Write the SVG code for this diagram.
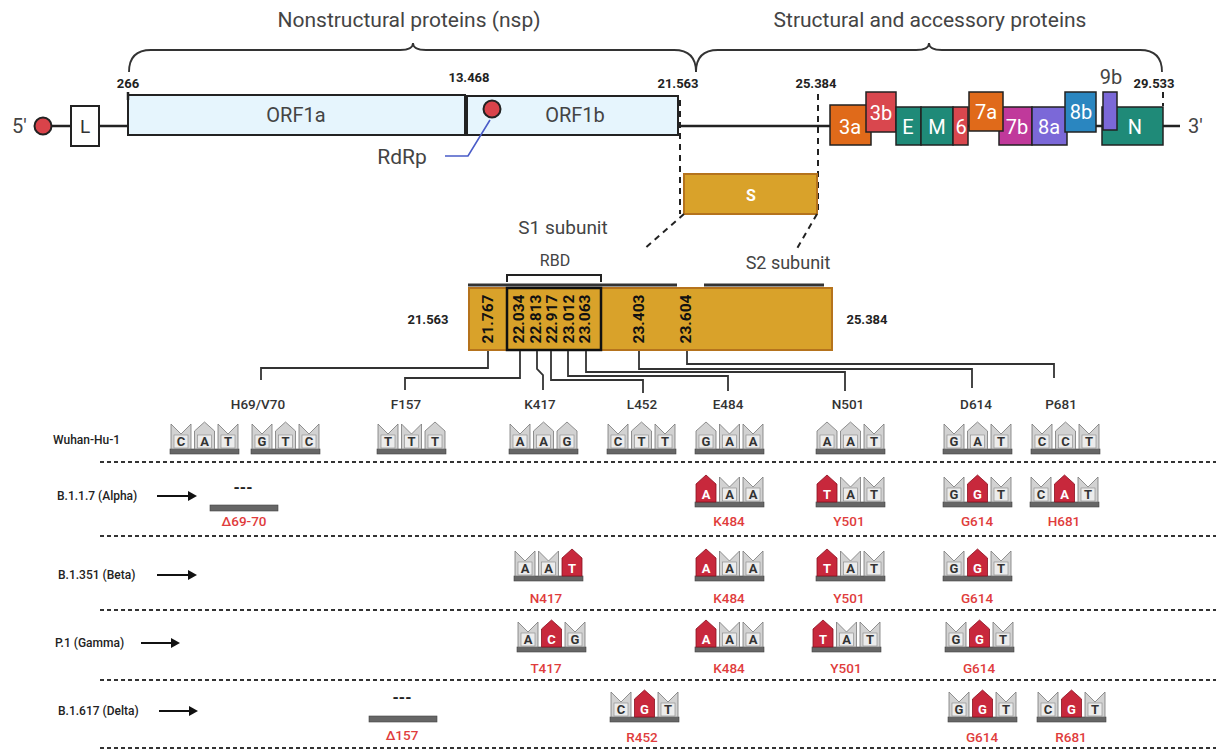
<svg xmlns="http://www.w3.org/2000/svg" xmlns:xlink="http://www.w3.org/1999/xlink" width="1216" height="749" viewBox="0 0 1216 749">
<style>
text{font-family:Roboto,"Liberation Sans",sans-serif}
.hd{font-size:21px;fill:#444;text-anchor:middle}
.num{font-size:13px;font-weight:bold;fill:#222;text-anchor:middle}
.orf{fill:#e6f5fd;stroke:#222;stroke-width:2}
.orft{font-size:20px;fill:#444;text-anchor:middle}
.gene{stroke:#222;stroke-width:1.5}
.gt{font-size:20px;fill:#fff;text-anchor:middle}
.dash{stroke:#222;stroke-width:2;stroke-dasharray:6 5;fill:none}
.sbox{fill:#d9a22a;stroke:#b5731d;stroke-width:2}
.vn{font-size:15.5px;font-weight:bold;fill:#111;text-anchor:middle;dominant-baseline:central}
.con{stroke:#333;stroke-width:1.8;fill:none}
.mut{font-size:13.5px;font-weight:500;fill:#333;text-anchor:middle}
.row{font-size:12px;font-weight:500;fill:#222}
.red{font-size:13.5px;font-weight:500;fill:#e03c3c;text-anchor:middle}
.dot{stroke:#333;stroke-width:2;stroke-dasharray:4 3}
.bar{fill:#666;stroke:#444;stroke-width:0.6}
.tg{fill:#d2d2d2;stroke:#777;stroke-width:0.8}
.tr{fill:#c8283c;stroke:#8a1020;stroke-width:0.8}
.in{fill:#ececec;stroke:#888;stroke-width:0.6}
.nt{font-size:13px;font-weight:bold;fill:#333;text-anchor:middle}
.nw{font-size:13px;font-weight:bold;fill:#fff;text-anchor:middle}
.arr{stroke:#111;stroke-width:2}
</style>
<defs>
<path id="tn" d="M0,0V-25L10,-15L20,-25V0Z"/>
<path id="tp" d="M0,0V-18L10,-27L20,-18V0Z"/>
</defs>

<g id="headers">
<text class="hd" x="409" y="27">Nonstructural proteins (nsp)</text>
<text class="hd" x="930" y="27">Structural and accessory proteins</text>
<path d="M129,72 Q129,50 151,50 H400 Q413,50 413,43 Q413,50 426,50 H674 Q696,50 696,72" fill="none" stroke="#333" stroke-width="1.8"/>
<path d="M696,72 Q696,50 718,50 H916 Q929,50 929,43 Q929,50 942,50 H1140 Q1162,50 1162,72" fill="none" stroke="#333" stroke-width="1.8"/>
</g>

<g id="genome-line">
<line x1="50" y1="126" x2="1180" y2="126" stroke="#222" stroke-width="2.5"/>
</g>

<g id="five-prime">
<text x="12" y="133" font-size="20" fill="#444">5'</text>
<circle cx="43" cy="126" r="8.5" fill="#d9434a" stroke="#222" stroke-width="2"/>
</g>
<g id="L">
<rect x="71" y="106" width="28" height="40" fill="#fff" stroke="#222" stroke-width="2"/>
<text x="85" y="133" font-size="19" fill="#333" text-anchor="middle">L</text>
</g>

<g id="ORF1a">
<rect class="orf" x="128" y="95" width="337" height="40"/>
<text class="orft" x="296" y="122">ORF1a</text>
<text class="num" x="128" y="88">266</text>
<line x1="128" y1="92" x2="128" y2="100" stroke="#222" stroke-width="2.5"/>
</g>
<g id="ORF1b">
<rect class="orf" x="467" y="96" width="211" height="39"/>
<text class="orft" x="575" y="122">ORF1b</text>
<circle cx="492" cy="109" r="8.5" fill="#d9434a" stroke="#222" stroke-width="2"/>
<text class="num" x="469" y="82">13.468</text>
</g>
<g id="RdRp">
<text x="402" y="164" font-size="21" fill="#444" text-anchor="middle">RdRp</text>
<path d="M445,156 H468 L490,120" fill="none" stroke="#4a5cc8" stroke-width="1.6"/>
</g>

<g id="positions">
<text class="num" x="678" y="88">21.563</text>
<text class="num" x="816" y="88">25.384</text>
<text class="num" x="1154" y="88">29.533</text>
<line x1="1163" y1="92" x2="1163" y2="106" class="dash"/>
</g>

<g id="genes">
<rect class="gene" x="830" y="105" width="41" height="40" fill="#e06a1a"/>
<text class="gt" x="850" y="134">3a</text>
<rect class="gene" x="866" y="92" width="30" height="40" fill="#d9474e"/>
<text class="gt" x="881" y="120">3b</text>
<rect class="gene" x="896" y="107" width="25" height="38" fill="#1f8a78"/>
<text class="gt" x="908" y="134">E</text>
<rect class="gene" x="921" y="107" width="32" height="38" fill="#1f8a78"/>
<text class="gt" x="937" y="134">M</text>
<rect class="gene" x="953" y="107" width="15" height="38" fill="#d9474e"/>
<text class="gt" x="961" y="134">6</text>
<rect class="gene" x="999" y="107" width="33" height="38" fill="#c0399b"/>
<text class="gt" x="1017" y="134">7b</text>
<rect class="gene" x="969" y="92" width="34" height="39" fill="#e06a1a"/>
<text class="gt" x="986" y="119">7a</text>
<rect class="gene" x="1032" y="107" width="35" height="38" fill="#7b68d8"/>
<text class="gt" x="1049" y="134">8a</text>
<rect class="gene" x="1065" y="92" width="31" height="40" fill="#2a86c0"/>
<text class="gt" x="1081" y="119">8b</text>
<rect class="gene" x="1102" y="107" width="61" height="38" fill="#1f8a78"/>
<text class="gt" x="1135" y="134">N</text>
<rect class="gene" x="1103" y="92" width="14" height="38" fill="#7b68d8"/>
<text x="1111" y="84" font-size="20" fill="#444" text-anchor="middle">9b</text>
</g>
<g id="three-prime">
<text x="1188" y="133" font-size="20" fill="#444">3'</text>
</g>

<g id="S-gene">
<line class="dash" x1="680" y1="100" x2="680" y2="214"/>
<line class="dash" x1="818" y1="94" x2="818" y2="214"/>
<rect class="sbox" x="684" y="174" width="133" height="40"/>
<text x="751" y="201" font-size="16" font-weight="bold" fill="#fff" text-anchor="middle">S</text>
<line class="dash" x1="684" y1="214" x2="643" y2="250"/>
<line class="dash" x1="817" y1="214" x2="795" y2="252"/>
</g>

<g id="subunits">
<text x="563" y="234" font-size="19" fill="#444" text-anchor="middle">S1 subunit</text>
<text x="788" y="269" font-size="18" fill="#444" text-anchor="middle">S2 subunit</text>
<text x="555" y="266" font-size="16" fill="#444" text-anchor="middle">RBD</text>
<path d="M507,282 V275 H601 V282" fill="none" stroke="#222" stroke-width="2"/>
<line x1="468" y1="285" x2="677" y2="285" stroke="#333" stroke-width="3"/>
<line x1="704" y1="285" x2="824" y2="285" stroke="#333" stroke-width="3"/>
</g>

<g id="S-detail">
<rect class="sbox" x="469" y="288" width="363" height="62"/>
<rect x="507" y="288" width="94" height="62" fill="none" stroke="#111" stroke-width="2.5"/>
<text class="num" x="428" y="319" font-size="14" dominant-baseline="central">21.563</text>
<text class="num" x="867" y="319" font-size="14" dominant-baseline="central">25.384</text>
<text class="vn" transform="translate(488,319) rotate(-90)">21.767</text>
<text class="vn" transform="translate(519,319) rotate(-90)">22.034</text>
<text class="vn" transform="translate(535.5,319) rotate(-90)">22.813</text>
<text class="vn" transform="translate(552,319) rotate(-90)">22.917</text>
<text class="vn" transform="translate(568.5,319) rotate(-90)">23.012</text>
<text class="vn" transform="translate(585,319) rotate(-90)">23.063</text>
<text class="vn" transform="translate(639,319) rotate(-90)">23.403</text>
<text class="vn" transform="translate(686,319) rotate(-90)">23.604</text>
</g>

<g id="connectors">
<path class="con" d="M488,351 V368 H261 V380"/>
<path class="con" d="M520,351 V378 H405 V390"/>
<path class="con" d="M537,351 V369 L543,375 V390"/>
<path class="con" d="M551,351 V380 H643 V393"/>
<path class="con" d="M568,351 V376 H728 V391"/>
<path class="con" d="M586,351 V372 H845 V391"/>
<path class="con" d="M639,351 V369 H972 V388"/>
<path class="con" d="M687,351 V364 H1054 V378"/>
</g>

<g id="mutation-sites">
<text class="mut" x="258" y="409">H69/V70</text>
<text class="mut" x="406" y="409">F157</text>
<text class="mut" x="540" y="409">K417</text>
<text class="mut" x="642" y="409">L452</text>
<text class="mut" x="728" y="409">E484</text>
<text class="mut" x="848" y="409">N501</text>
<text class="mut" x="976" y="409">D614</text>
<text class="mut" x="1061" y="409">P681</text>
</g>

<g id="separators">
<line class="dot" x1="100" y1="462" x2="1216" y2="462"/>
<line class="dot" x1="100" y1="536" x2="1216" y2="536"/>
<line class="dot" x1="100" y1="610" x2="1216" y2="610"/>
<line class="dot" x1="100" y1="680" x2="1216" y2="680"/>
<line class="dot" x1="100" y1="748" x2="1216" y2="748"/>
</g>

<g id="row-wuhan">
<text class="row" x="53" y="444">Wuhan-Hu-1</text>
<g transform="translate(171,449)"><rect class="bar" x="-1" y="0" width="69" height="5"/>
<use href="#tn" class="tg"/><rect class="in" x="3" y="-14" width="14" height="13"/><text class="nt" x="10" y="-3">C</text>
<use href="#tp" class="tg" x="23.5"/><rect class="in" x="26.5" y="-14" width="14" height="13"/><text class="nt" x="33.5" y="-3">A</text>
<use href="#tn" class="tg" x="47"/><rect class="in" x="50" y="-14" width="14" height="13"/><text class="nt" x="57" y="-3">T</text></g>
<g transform="translate(252,449)"><rect class="bar" x="-1" y="0" width="69" height="5"/>
<use href="#tn" class="tg"/><rect class="in" x="3" y="-14" width="14" height="13"/><text class="nt" x="10" y="-3">G</text>
<use href="#tp" class="tg" x="23.5"/><rect class="in" x="26.5" y="-14" width="14" height="13"/><text class="nt" x="33.5" y="-3">T</text>
<use href="#tn" class="tg" x="47"/><rect class="in" x="50" y="-14" width="14" height="13"/><text class="nt" x="57" y="-3">C</text></g>
<g transform="translate(378,449)"><rect class="bar" x="-1" y="0" width="69" height="5"/>
<use href="#tn" class="tg"/><rect class="in" x="3" y="-14" width="14" height="13"/><text class="nt" x="10" y="-3">T</text>
<use href="#tn" class="tg" x="23.5"/><rect class="in" x="26.5" y="-14" width="14" height="13"/><text class="nt" x="33.5" y="-3">T</text>
<use href="#tp" class="tg" x="47"/><rect class="in" x="50" y="-14" width="14" height="13"/><text class="nt" x="57" y="-3">T</text></g>
<g transform="translate(510,449)"><rect class="bar" x="-1" y="0" width="69" height="5"/>
<use href="#tn" class="tg"/><rect class="in" x="3" y="-14" width="14" height="13"/><text class="nt" x="10" y="-3">A</text>
<use href="#tp" class="tg" x="23.5"/><rect class="in" x="26.5" y="-14" width="14" height="13"/><text class="nt" x="33.5" y="-3">A</text>
<use href="#tp" class="tg" x="47"/><rect class="in" x="50" y="-14" width="14" height="13"/><text class="nt" x="57" y="-3">G</text></g>
<g transform="translate(608,449)"><rect class="bar" x="-1" y="0" width="69" height="5"/>
<use href="#tn" class="tg"/><rect class="in" x="3" y="-14" width="14" height="13"/><text class="nt" x="10" y="-3">C</text>
<use href="#tp" class="tg" x="23.5"/><rect class="in" x="26.5" y="-14" width="14" height="13"/><text class="nt" x="33.5" y="-3">T</text>
<use href="#tn" class="tg" x="47"/><rect class="in" x="50" y="-14" width="14" height="13"/><text class="nt" x="57" y="-3">T</text></g>
<g transform="translate(696,449)"><rect class="bar" x="-1" y="0" width="69" height="5"/>
<use href="#tp" class="tg"/><rect class="in" x="3" y="-14" width="14" height="13"/><text class="nt" x="10" y="-3">G</text>
<use href="#tn" class="tg" x="23.5"/><rect class="in" x="26.5" y="-14" width="14" height="13"/><text class="nt" x="33.5" y="-3">A</text>
<use href="#tn" class="tg" x="47"/><rect class="in" x="50" y="-14" width="14" height="13"/><text class="nt" x="57" y="-3">A</text></g>
<g transform="translate(817,449)"><rect class="bar" x="-1" y="0" width="69" height="5"/>
<use href="#tp" class="tg"/><rect class="in" x="3" y="-14" width="14" height="13"/><text class="nt" x="10" y="-3">A</text>
<use href="#tp" class="tg" x="23.5"/><rect class="in" x="26.5" y="-14" width="14" height="13"/><text class="nt" x="33.5" y="-3">A</text>
<use href="#tn" class="tg" x="47"/><rect class="in" x="50" y="-14" width="14" height="13"/><text class="nt" x="57" y="-3">T</text></g>
<g transform="translate(944,449)"><rect class="bar" x="-1" y="0" width="69" height="5"/>
<use href="#tn" class="tg"/><rect class="in" x="3" y="-14" width="14" height="13"/><text class="nt" x="10" y="-3">G</text>
<use href="#tp" class="tg" x="23.5"/><rect class="in" x="26.5" y="-14" width="14" height="13"/><text class="nt" x="33.5" y="-3">A</text>
<use href="#tn" class="tg" x="47"/><rect class="in" x="50" y="-14" width="14" height="13"/><text class="nt" x="57" y="-3">T</text></g>
<g transform="translate(1032,449)"><rect class="bar" x="-1" y="0" width="69" height="5"/>
<use href="#tn" class="tg"/><rect class="in" x="3" y="-14" width="14" height="13"/><text class="nt" x="10" y="-3">C</text>
<use href="#tp" class="tg" x="23.5"/><rect class="in" x="26.5" y="-14" width="14" height="13"/><text class="nt" x="33.5" y="-3">C</text>
<use href="#tn" class="tg" x="47"/><rect class="in" x="50" y="-14" width="14" height="13"/><text class="nt" x="57" y="-3">T</text></g>
</g>

<g id="row-alpha">
<text class="row" x="57" y="500">B.1.1.7 (Alpha)</text>
<line class="arr" x1="157" y1="496" x2="189" y2="496"/><polygon points="188,491 197,496 188,501" fill="#111"/>
<text x="243" y="493" font-size="16" font-weight="bold" fill="#222" text-anchor="middle">---</text>
<rect class="bar" x="210" y="505" width="68" height="6"/>
<text class="red" x="244" y="526">Δ69-70</text>
<g transform="translate(696,502)"><rect class="bar" x="-1" y="0" width="69" height="5"/>
<use href="#tp" class="tr"/><text class="nw" x="10" y="-3">A</text>
<use href="#tn" class="tg" x="23.5"/><rect class="in" x="26.5" y="-14" width="14" height="13"/><text class="nt" x="33.5" y="-3">A</text>
<use href="#tn" class="tg" x="47"/><rect class="in" x="50" y="-14" width="14" height="13"/><text class="nt" x="57" y="-3">A</text></g>
<g transform="translate(817,502)"><rect class="bar" x="-1" y="0" width="69" height="5"/>
<use href="#tp" class="tr"/><text class="nw" x="10" y="-3">T</text>
<use href="#tn" class="tg" x="23.5"/><rect class="in" x="26.5" y="-14" width="14" height="13"/><text class="nt" x="33.5" y="-3">A</text>
<use href="#tn" class="tg" x="47"/><rect class="in" x="50" y="-14" width="14" height="13"/><text class="nt" x="57" y="-3">T</text></g>
<g transform="translate(944,502)"><rect class="bar" x="-1" y="0" width="69" height="5"/>
<use href="#tn" class="tg"/><rect class="in" x="3" y="-14" width="14" height="13"/><text class="nt" x="10" y="-3">G</text>
<use href="#tp" class="tr" x="23.5"/><text class="nw" x="33.5" y="-3">G</text>
<use href="#tn" class="tg" x="47"/><rect class="in" x="50" y="-14" width="14" height="13"/><text class="nt" x="57" y="-3">T</text></g>
<g transform="translate(1031,502)"><rect class="bar" x="-1" y="0" width="69" height="5"/>
<use href="#tn" class="tg"/><rect class="in" x="3" y="-14" width="14" height="13"/><text class="nt" x="10" y="-3">C</text>
<use href="#tp" class="tr" x="23.5"/><text class="nw" x="33.5" y="-3">A</text>
<use href="#tn" class="tg" x="47"/><rect class="in" x="50" y="-14" width="14" height="13"/><text class="nt" x="57" y="-3">T</text></g>
<text class="red" x="729" y="526">K484</text>
<text class="red" x="849" y="526">Y501</text>
<text class="red" x="977" y="526">G614</text>
<text class="red" x="1064" y="526">H681</text>
</g>

<g id="row-beta">
<text class="row" x="58" y="579">B.1.351 (Beta)</text>
<line class="arr" x1="157" y1="575" x2="189" y2="575"/><polygon points="188,570 197,575 188,580" fill="#111"/>
<g transform="translate(515,576)"><rect class="bar" x="-1" y="0" width="69" height="5"/>
<use href="#tn" class="tg"/><rect class="in" x="3" y="-14" width="14" height="13"/><text class="nt" x="10" y="-3">A</text>
<use href="#tn" class="tg" x="23.5"/><rect class="in" x="26.5" y="-14" width="14" height="13"/><text class="nt" x="33.5" y="-3">A</text>
<use href="#tp" class="tr" x="47"/><text class="nw" x="57" y="-3">T</text></g>
<g transform="translate(696,576)"><rect class="bar" x="-1" y="0" width="69" height="5"/>
<use href="#tp" class="tr"/><text class="nw" x="10" y="-3">A</text>
<use href="#tn" class="tg" x="23.5"/><rect class="in" x="26.5" y="-14" width="14" height="13"/><text class="nt" x="33.5" y="-3">A</text>
<use href="#tn" class="tg" x="47"/><rect class="in" x="50" y="-14" width="14" height="13"/><text class="nt" x="57" y="-3">A</text></g>
<g transform="translate(817,576)"><rect class="bar" x="-1" y="0" width="69" height="5"/>
<use href="#tp" class="tr"/><text class="nw" x="10" y="-3">T</text>
<use href="#tn" class="tg" x="23.5"/><rect class="in" x="26.5" y="-14" width="14" height="13"/><text class="nt" x="33.5" y="-3">A</text>
<use href="#tn" class="tg" x="47"/><rect class="in" x="50" y="-14" width="14" height="13"/><text class="nt" x="57" y="-3">T</text></g>
<g transform="translate(944,576)"><rect class="bar" x="-1" y="0" width="69" height="5"/>
<use href="#tn" class="tg"/><rect class="in" x="3" y="-14" width="14" height="13"/><text class="nt" x="10" y="-3">G</text>
<use href="#tp" class="tr" x="23.5"/><text class="nw" x="33.5" y="-3">G</text>
<use href="#tn" class="tg" x="47"/><rect class="in" x="50" y="-14" width="14" height="13"/><text class="nt" x="57" y="-3">T</text></g>
<text class="red" x="546" y="603">N417</text>
<text class="red" x="729" y="603">K484</text>
<text class="red" x="849" y="603">Y501</text>
<text class="red" x="977" y="603">G614</text>
</g>

<g id="row-gamma">
<text class="row" x="55" y="647">P.1 (Gamma)</text>
<line class="arr" x1="141" y1="643" x2="172" y2="643"/><polygon points="171,638 180,643 171,648" fill="#111"/>
<g transform="translate(518,647)"><rect class="bar" x="-1" y="0" width="69" height="5"/>
<use href="#tn" class="tg"/><rect class="in" x="3" y="-14" width="14" height="13"/><text class="nt" x="10" y="-3">A</text>
<use href="#tp" class="tr" x="23.5"/><text class="nw" x="33.5" y="-3">C</text>
<use href="#tn" class="tg" x="47"/><rect class="in" x="50" y="-14" width="14" height="13"/><text class="nt" x="57" y="-3">G</text></g>
<g transform="translate(696,647)"><rect class="bar" x="-1" y="0" width="69" height="5"/>
<use href="#tp" class="tr"/><text class="nw" x="10" y="-3">A</text>
<use href="#tn" class="tg" x="23.5"/><rect class="in" x="26.5" y="-14" width="14" height="13"/><text class="nt" x="33.5" y="-3">A</text>
<use href="#tn" class="tg" x="47"/><rect class="in" x="50" y="-14" width="14" height="13"/><text class="nt" x="57" y="-3">A</text></g>
<g transform="translate(813,647)"><rect class="bar" x="-1" y="0" width="69" height="5"/>
<use href="#tp" class="tr"/><text class="nw" x="10" y="-3">T</text>
<use href="#tn" class="tg" x="23.5"/><rect class="in" x="26.5" y="-14" width="14" height="13"/><text class="nt" x="33.5" y="-3">A</text>
<use href="#tn" class="tg" x="47"/><rect class="in" x="50" y="-14" width="14" height="13"/><text class="nt" x="57" y="-3">T</text></g>
<g transform="translate(946,647)"><rect class="bar" x="-1" y="0" width="69" height="5"/>
<use href="#tn" class="tg"/><rect class="in" x="3" y="-14" width="14" height="13"/><text class="nt" x="10" y="-3">G</text>
<use href="#tp" class="tr" x="23.5"/><text class="nw" x="33.5" y="-3">G</text>
<use href="#tn" class="tg" x="47"/><rect class="in" x="50" y="-14" width="14" height="13"/><text class="nt" x="57" y="-3">T</text></g>
<text class="red" x="546" y="673">T417</text>
<text class="red" x="729" y="673">K484</text>
<text class="red" x="846" y="673">Y501</text>
<text class="red" x="979" y="673">G614</text>
</g>

<g id="row-delta">
<text class="row" x="58" y="715">B.1.617 (Delta)</text>
<line class="arr" x1="159" y1="711" x2="190" y2="711"/><polygon points="189,706 198,711 189,716" fill="#111"/>
<text x="402" y="703" font-size="16" font-weight="bold" fill="#222" text-anchor="middle">---</text>
<rect class="bar" x="369" y="716" width="68" height="6"/>
<text class="red" x="402" y="740">Δ157</text>
<g transform="translate(611,717)"><rect class="bar" x="-1" y="0" width="69" height="5"/>
<use href="#tn" class="tg"/><rect class="in" x="3" y="-14" width="14" height="13"/><text class="nt" x="10" y="-3">C</text>
<use href="#tp" class="tr" x="23.5"/><text class="nw" x="33.5" y="-3">G</text>
<use href="#tn" class="tg" x="47"/><rect class="in" x="50" y="-14" width="14" height="13"/><text class="nt" x="57" y="-3">T</text></g>
<g transform="translate(949,717)"><rect class="bar" x="-1" y="0" width="69" height="5"/>
<use href="#tn" class="tg"/><rect class="in" x="3" y="-14" width="14" height="13"/><text class="nt" x="10" y="-3">G</text>
<use href="#tp" class="tr" x="23.5"/><text class="nw" x="33.5" y="-3">G</text>
<use href="#tn" class="tg" x="47"/><rect class="in" x="50" y="-14" width="14" height="13"/><text class="nt" x="57" y="-3">T</text></g>
<g transform="translate(1038,717)"><rect class="bar" x="-1" y="0" width="69" height="5"/>
<use href="#tn" class="tg"/><rect class="in" x="3" y="-14" width="14" height="13"/><text class="nt" x="10" y="-3">C</text>
<use href="#tp" class="tr" x="23.5"/><text class="nw" x="33.5" y="-3">G</text>
<use href="#tn" class="tg" x="47"/><rect class="in" x="50" y="-14" width="14" height="13"/><text class="nt" x="57" y="-3">T</text></g>
<text class="red" x="642" y="742">R452</text>
<text class="red" x="982" y="742">G614</text>
<text class="red" x="1071" y="742">R681</text>
</g>
</svg>
